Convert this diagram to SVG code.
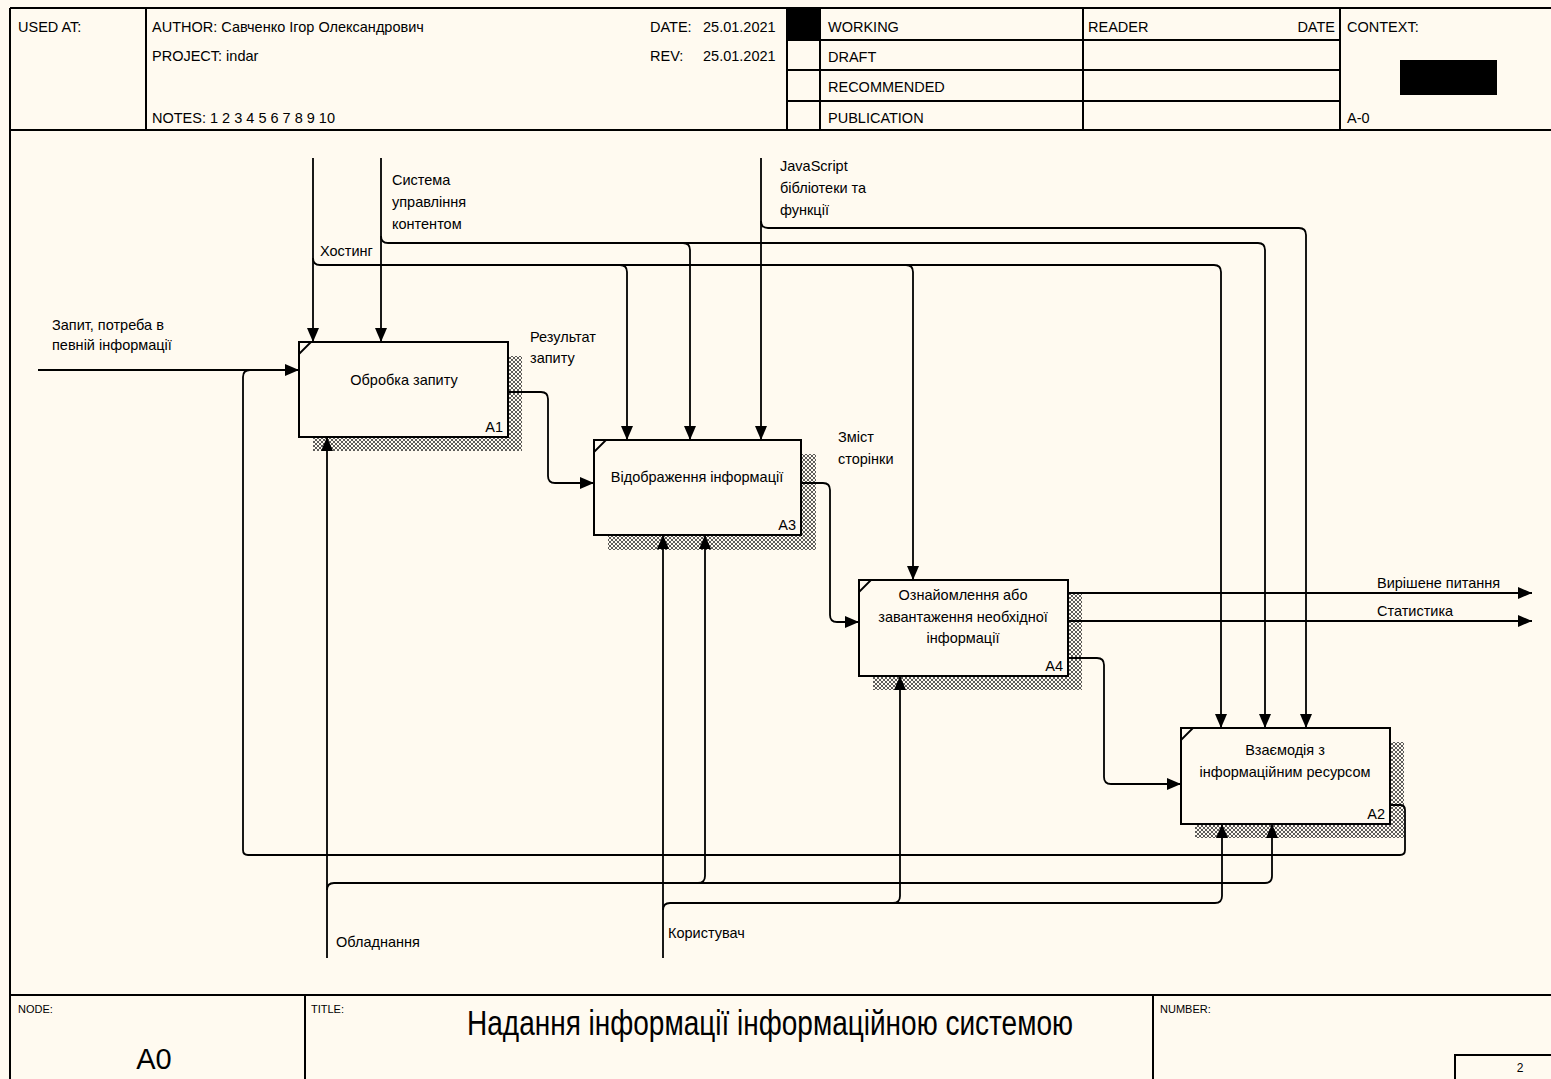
<svg xmlns="http://www.w3.org/2000/svg" width="1551" height="1079" viewBox="0 0 1551 1079">
<defs>
<style>
.fr{stroke:#000;stroke-width:2;fill:none}
.ln{stroke:#000;stroke-width:1.8;fill:none}
.ar{stroke:#000;stroke-width:1.8;fill:none;marker-end:url(#ah)}
.t{font-family:"Liberation Sans",Arial,sans-serif;font-size:14.5px;fill:#000}
.tc{font-family:"Liberation Sans",Arial,sans-serif;font-size:14.5px;fill:#000;text-anchor:middle}
.sm{font-family:"Liberation Sans",Arial,sans-serif;font-size:11px;fill:#000}
.box{fill:#FFFAF0;stroke:#000;stroke-width:2}
.sh{fill:url(#hatch)}
</style>
<pattern id="hatch" width="4" height="4" patternUnits="userSpaceOnUse">
<rect width="4" height="4" fill="#FFFAF0"/>
<path d="M0,0 L4,4 M4,0 L0,4" stroke="#333" stroke-width="0.8"/>
</pattern>
<marker id="ah" markerUnits="userSpaceOnUse" markerWidth="16" markerHeight="14" refX="14" refY="6" orient="auto">
<path d="M0,0 L14,6 L0,12 z" fill="#000"/>
</marker>
</defs>
<rect width="1551" height="1079" fill="#FFFAF0"/>
<g id="header">
<path class="fr" d="M10,8 H1551 M10,8 V1079 M10,130 H1551 M146,8 V130 M787,8 V130 M820,8 V130 M1083,8 V130 M1340,8 V130 M787,40 H1340 M787,70 H1340 M787,101 H1340"/>
<rect x="787" y="8" width="33" height="32" fill="#000"/>
<rect x="1400" y="60" width="97" height="35" fill="#000"/>
<text class="t" x="18" y="32">USED AT:</text>
<text class="t" x="152" y="32">AUTHOR:  Савченко Ігор Олександрович</text>
<text class="t" x="650" y="32">DATE:</text>
<text class="t" x="703" y="32">25.01.2021</text>
<text class="t" x="152" y="61">PROJECT:  indar</text>
<text class="t" x="650" y="61">REV:</text>
<text class="t" x="703" y="61">25.01.2021</text>
<text class="t" x="152" y="123">NOTES:  1  2  3  4  5  6  7  8  9  10</text>
<text class="t" x="828" y="32">WORKING</text>
<text class="t" x="828" y="62">DRAFT</text>
<text class="t" x="828" y="92">RECOMMENDED</text>
<text class="t" x="828" y="123">PUBLICATION</text>
<text class="t" x="1088" y="32">READER</text>
<text class="t" x="1335" y="32" text-anchor="end">DATE</text>
<text class="t" x="1347" y="32">CONTEXT:</text>
<text class="t" x="1347" y="123">A-0</text>
</g>
<g id="footer">
<path class="fr" d="M10,995 H1551 M305,995 V1079 M1153,995 V1079 M1455,1079 V1055 H1551"/>
<text class="sm" x="18" y="1013">NODE:</text>
<text class="sm" x="311" y="1013">TITLE:</text>
<text class="sm" x="1160" y="1013">NUMBER:</text>
<text class="tc" x="770" y="0" style="font-size:28px" transform="translate(0,1035) scale(1,1.25)">Надання інформації інформаційною системою</text>
<text class="tc" x="154" y="1069" style="font-size:29px">A0</text>
<text class="tc" x="1520" y="1072" style="font-size:12px">2</text>
</g>
<g id="A1">
<rect class="sh" x="313" y="356" width="209" height="95"/>
<rect class="box" x="299" y="342" width="209" height="95"/>
<path class="ln" d="M299,354 L311,342"/>
<text class="tc" x="404" y="385">Обробка запиту</text>
<text class="t" x="503" y="432" text-anchor="end">A1</text>
</g>
<g id="A3">
<rect class="sh" x="608" y="454" width="208" height="96"/>
<rect class="box" x="594" y="440" width="207" height="95"/>
<path class="ln" d="M594,452 L606,440"/>
<text class="tc" x="697" y="482">Відображення інформації</text>
<text class="t" x="796" y="530" text-anchor="end">A3</text>
</g>
<g id="A4">
<rect class="sh" x="873" y="594" width="209" height="96"/>
<rect class="box" x="859" y="580" width="209" height="96"/>
<path class="ln" d="M859,592 L871,580"/>
<text class="tc" x="963" y="600">Ознайомлення або</text>
<text class="tc" x="963" y="622">завантаження необхідної</text>
<text class="tc" x="963" y="643">інформації</text>
<text class="t" x="1063" y="671" text-anchor="end">A4</text>
</g>
<g id="A2">
<rect class="sh" x="1195" y="742" width="209" height="96"/>
<rect class="box" x="1181" y="728" width="209" height="96"/>
<path class="ln" d="M1181,740 L1193,728"/>
<text class="tc" x="1285" y="755">Взаємодія з</text>
<text class="tc" x="1285" y="777">інформаційним ресурсом</text>
<text class="t" x="1385" y="819" text-anchor="end">A2</text>
</g>
<g id="connectors">
<path class="ar" d="M38,370 H299"/>
<path class="ln" d="M1390,805 H1400 Q1405,805 1405,810 V850 Q1405,855 1400,855 H248 Q243,855 243,850 V377 Q243,370 250,370"/>
<path class="ar" d="M313,158 V342"/>
<path class="ar" d="M313,258 Q313,265 320,265 H1214 Q1221,265 1221,272 V728"/>
<path class="ar" d="M620,265 Q627,265 627,272 V440"/>
<path class="ar" d="M906,265 Q913,265 913,272 V580"/>
<path class="ar" d="M381,158 V342"/>
<path class="ar" d="M381,236 Q381,243 388,243 H1258 Q1265,243 1265,250 V728"/>
<path class="ar" d="M683,243 Q690,243 690,250 V440"/>
<path class="ar" d="M761,158 V440"/>
<path class="ar" d="M761,221 Q761,228 768,228 H1299 Q1306,228 1306,235 V728"/>
<path class="ar" d="M508,392 H541 Q548,392 548,399 V476 Q548,483 555,483 H594"/>
<path class="ar" d="M801,483 H823 Q830,483 830,490 V615 Q830,622 837,622 H859"/>
<path class="ar" d="M1068,593 H1532"/>
<path class="ar" d="M1068,621 H1532"/>
<path class="ar" d="M1068,658 H1097 Q1104,658 1104,665 V777 Q1104,784 1111,784 H1181"/>
<path class="ar" d="M327,958 V437"/>
<path class="ar" d="M327,890 Q327,883 334,883 H1265 Q1272,883 1272,876 V824"/>
<path class="ar" d="M698,883 Q705,883 705,876 V535"/>
<path class="ar" d="M663,958 V535"/>
<path class="ar" d="M663,910 Q663,903 670,903 H1215 Q1222,903 1222,896 V824"/>
<path class="ar" d="M893,903 Q900,903 900,896 V676"/>
<text class="t" x="392" y="185">Система</text>
<text class="t" x="392" y="207">управління</text>
<text class="t" x="392" y="229">контентом</text>
<text class="t" x="780" y="171">JavaScript</text>
<text class="t" x="780" y="193">бібліотеки та</text>
<text class="t" x="780" y="215">функції</text>
<text class="t" x="320" y="256">Хостинг</text>
<text class="t" x="530" y="342">Результат</text>
<text class="t" x="530" y="363">запиту</text>
<text class="t" x="52" y="330">Запит, потреба в</text>
<text class="t" x="52" y="350">певній інформації</text>
<text class="t" x="838" y="442">Зміст</text>
<text class="t" x="838" y="464">сторінки</text>
<text class="t" x="1377" y="588">Вирішене питання</text>
<text class="t" x="1377" y="616">Статистика</text>
<text class="t" x="336" y="947">Обладнання</text>
<text class="t" x="668" y="938">Користувач</text>
</g>
</svg>
